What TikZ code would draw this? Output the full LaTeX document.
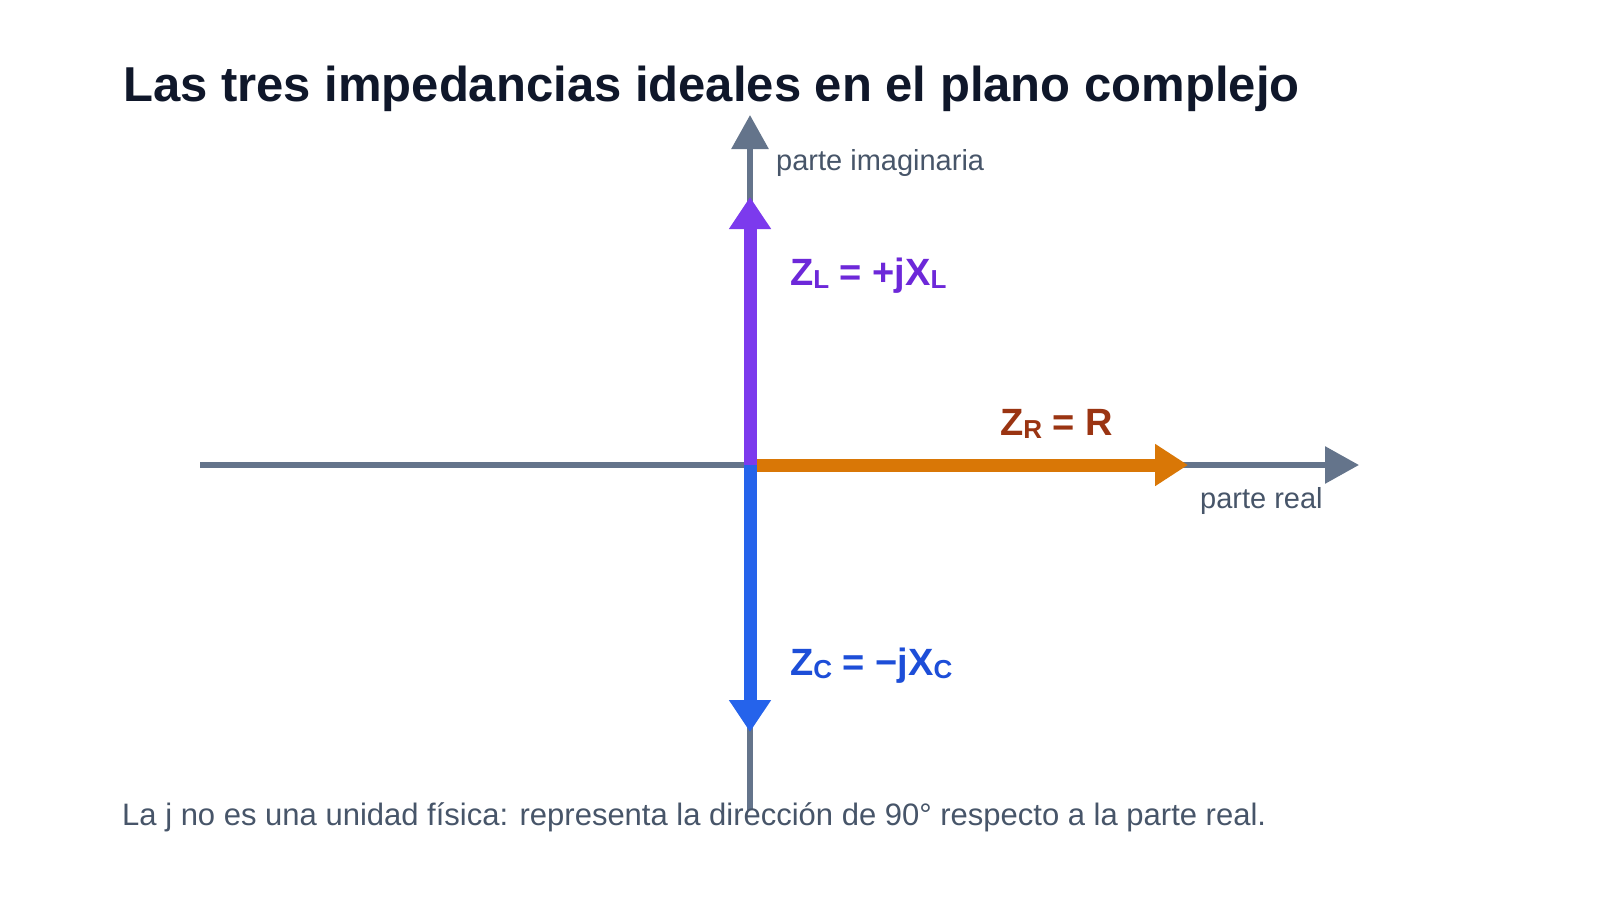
\documentclass[tikz,border=0pt]{standalone}
\usepackage{fontspec}
\setmainfont{Liberation Sans}
\usetikzlibrary{arrows.meta}
\definecolor{axisgray}{HTML}{64748B}
\definecolor{labelgray}{HTML}{475569}
\definecolor{titlecol}{HTML}{0F172A}
\definecolor{vpurple}{HTML}{7C3AED}
\definecolor{tpurple}{HTML}{6D28D9}
\definecolor{vorange}{HTML}{D97706}
\definecolor{torange}{HTML}{9A3412}
\definecolor{vblue}{HTML}{2563EB}
\definecolor{tblue}{HTML}{1D4ED8}
\tikzset{
  axisline/.style={draw=axisgray, line width=6pt, -{Triangle[length=34pt,width=36pt]}},
  vecline/.style={line width=13pt},
  txt/.style={inner sep=0pt, anchor=base west},
  axlabel/.style={txt, text=labelgray, font=\fontsize{29}{33}\selectfont},
  veclabel/.style={txt, font=\fontsize{38}{42}\selectfont\bfseries},
}
\newcommand{\sbs}[1]{\raisebox{-3.5pt}{\fontsize{26}{29}\selectfont #1}}
\begin{document}
\begin{tikzpicture}[x=1pt,y=-1pt]
\useasboundingbox[fill=white] (0,0) rectangle (1600,900);
\coordinate (O) at (750,465);
\coordinate (xl) at (200,465);
\coordinate (xr) at (1359,465);
\coordinate (yb) at (750,810);
\coordinate (yt) at (750,115);
\coordinate (zl) at (750,197);
\coordinate (zr) at (1188,465);
\coordinate (zc) at (750,732);
\draw[axisline] (xl) -- (xr);
\draw[axisline] (yb) -- (yt);
\draw[vecline, draw=vorange, -{Triangle[length=33pt,width=40pt,fill=vorange]}] (O) -- (zr);
\draw[vecline, draw=vpurple, -{Triangle[length=32pt,width=40pt,fill=vpurple]}] (O) -- (zl);
\draw[vecline, draw=vblue, -{Triangle[length=32pt,width=40pt,fill=vblue]}] (O) -- (zc);
\node[txt, text=titlecol, font=\fontsize{49}{56}\selectfont\bfseries] (title) at (123,101) {Las tres impedancias ideales en el plano complejo};
\node[axlabel] (im) at (776,170) {parte imaginaria};
\node[axlabel] (re) at (1200,508) {parte real};
\node[veclabel, text=tpurple] (lzl) at (790,285) {Z\sbs{L} = +jX\sbs{L}};
\node[veclabel, text=torange] (lzr) at (1000,435) {Z\sbs{R} = R};
\node[veclabel, text=tblue] (lzc) at (790,675) {Z\sbs{C} = −jX\sbs{C}};
\node[txt, text=labelgray, font=\fontsize{31}{35}\selectfont] (note) at (122,825) {La j no es una unidad física: representa la dirección de 90° respecto a la parte real.};
\end{tikzpicture}
\end{document}
